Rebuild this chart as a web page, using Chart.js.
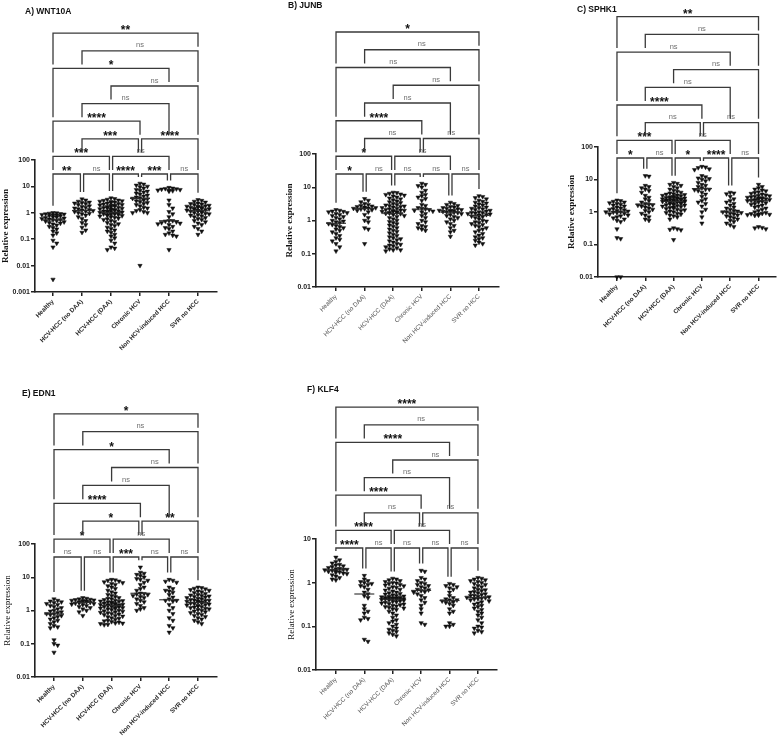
<!DOCTYPE html>
<html><head><meta charset="utf-8">
<script src="https://cdn.jsdelivr.net/npm/chart.js@4.4.1/dist/chart.umd.min.js"></script>
<style>
html,body{margin:0;padding:0;background:#fff;width:780px;height:739px;overflow:hidden}
canvas{position:absolute}
</style></head><body>
<canvas id="cA" style="left:0;top:0" width="260" height="390"></canvas>
<canvas id="cB" style="left:260px;top:0" width="260" height="390"></canvas>
<canvas id="cC" style="left:520px;top:0" width="260" height="390"></canvas>
<canvas id="cE" style="left:0;top:380px" width="260" height="359"></canvas>
<canvas id="cF" style="left:260px;top:380px" width="260" height="359"></canvas>
<script>
const categories = ['Healthy','HCV-HCC (no DAA)','HCV-HCC (DAA)','Chronic HCV','Non HCV-induced HCC','SVR no HCC'];

const yTicks5 = [0.001,0.01,0.1,1,10,100];
const yTickLabels5 = ['0.001','0.01','0.1','1','10','100'];
const yTicks4 = [0.01,0.1,1,10,100];
const yTickLabels4 = ['0.01','0.1','1','10','100'];
const yTicks3 = [0.01,0.1,1,10];
const yTickLabels3 = ['0.01','0.1','1','10'];

const WNT10A = [
 [1.0,0.98,0.95,0.92,0.9,0.88,0.85,0.82,0.8,0.78,0.75,0.7,0.68,0.65,0.62,0.6,0.57,0.55,0.53,0.5,0.48,0.45,0.42,0.4,0.37,0.34,0.3,0.27,0.24,0.2,0.17,0.14,0.09,0.07,0.05,0.003],
 [3.3,3.0,2.7,2.5,2.4,2.3,2.2,2.0,1.8,1.7,1.6,1.5,1.4,1.3,1.25,1.2,1.15,1.1,1.0,0.95,0.9,0.8,0.7,0.6,0.5,0.42,0.35,0.28,0.22,0.18],
 [3.6,3.4,3.2,3.0,2.9,2.8,2.7,2.6,2.5,2.4,2.3,2.2,2.1,2.0,1.95,1.9,1.85,1.8,1.7,1.65,1.6,1.55,1.5,1.45,1.4,1.35,1.3,1.25,1.2,1.18,1.15,1.12,1.1,1.05,1.02,
  1.0,0.98,0.95,0.92,0.9,0.87,0.85,0.82,0.8,0.77,0.74,0.7,0.66,0.62,0.58,0.55,0.5,0.46,0.42,0.38,0.35,0.32,0.28,0.25,0.22,0.2,0.18,0.15,0.13,0.11,0.09,0.07,0.05,0.045,0.04],
 [13,12,11,10,9.5,8.5,7.5,7,6.5,6,5.5,5,4.6,4.2,3.9,3.6,3.5,3.3,3.0,2.8,2.6,2.4,2.2,2.0,1.8,1.6,1.5,1.3,1.2,1.1,1.0,1.0,0.01],
 [9,8.5,8.2,8,7.8,7.5,7.2,7,6.8,6.5,3,2,1.5,1.1,0.9,0.7,0.5,0.5,0.48,0.45,0.42,0.4,0.38,0.35,0.3,0.27,0.25,0.2,0.17,0.15,0.14,0.13,0.04],
 [3.1,2.9,2.7,2.5,2.3,2.2,2.1,2.0,1.9,1.8,1.75,1.7,1.65,1.6,1.55,1.5,1.45,1.4,1.35,1.3,1.25,1.2,1.2,1.15,1.1,1.05,1.0,0.95,0.9,0.85,0.8,0.75,0.7,0.65,0.6,0.55,0.5,0.45,0.4,0.35,0.3,0.25,0.2,0.15]
];
const JUNB = [
 [2.1,2.0,1.9,1.85,1.8,1.7,1.6,1.5,1.4,1.3,1.2,1.1,1.0,0.95,0.9,0.85,0.8,0.75,0.7,0.65,0.6,0.55,0.5,0.45,0.4,0.35,0.3,0.27,0.24,0.2,0.16,0.12],
 [4.5,4.0,3.6,3.2,3.0,2.8,2.7,2.6,2.5,2.4,2.35,2.3,2.25,2.2,2.1,2.0,1.8,1.5,1.2,1.0,0.9,0.6,0.55,0.2],
 [7,6.8,6.5,6.2,6,5.7,5.4,5,4.7,4.4,4.1,3.8,3.6,3.4,3.2,3.0,2.9,2.8,2.7,2.6,2.5,2.4,2.3,2.2,2.1,2.05,2.0,1.95,1.9,1.85,1.8,1.75,1.7,1.67,1.63,
  1.6,1.5,1.4,1.3,1.2,1.1,1.0,0.92,0.85,0.78,0.72,0.66,0.6,0.55,0.5,0.46,0.42,0.38,0.35,0.32,0.3,0.28,0.26,0.24,0.22,0.2,0.19,0.18,0.17,0.16,0.15,0.14,0.13,0.13,0.12],
 [13,12,11,10,8,7,6,5.5,5,4.5,4,3,2.8,2.4,2.3,2.2,2.1,2.0,1.9,1.8,1.6,1.4,1.2,1.0,0.9,0.8,0.7,0.65,0.6,0.55,0.5],
 [3.5,3.2,3.0,2.8,2.6,2.5,2.4,2.3,2.2,2.1,2.0,2.0,1.95,1.9,1.85,1.8,1.75,1.7,1.6,1.5,1.4,1.3,1.2,1.1,1.0,0.9,0.8,0.7,0.6,0.5,0.45,0.33],
 [5.5,5.2,4.8,4.4,4.0,3.7,3.5,3.3,3.1,2.9,2.7,2.5,2.4,2.3,2.2,2.1,2.0,1.9,1.8,1.75,1.7,1.65,1.6,1.55,1.5,1.45,
  1.4,1.35,1.3,1.2,1.1,1.0,0.95,0.9,0.85,0.8,0.75,0.7,0.65,0.6,0.55,0.5,0.45,0.4,0.36,0.32,0.3,0.28,0.25,0.22,0.2,0.18]
];
const SPHK1 = [
 [2.3,2.2,2.1,2.0,1.9,1.8,1.7,1.6,1.5,1.4,1.3,1.25,1.2,1.15,1.1,1.05,1.0,1.0,0.98,0.95,0.9,0.85,0.8,0.75,0.7,0.65,0.6,0.55,0.5,0.3,0.16,0.15,0.01,0.01],
 [13,12.5,6.5,6,5.5,5,4.5,4,3.2,2.8,2.5,2.2,2.0,1.8,1.7,1.65,1.6,1.5,1.4,1.3,1.2,1.1,1.0,0.9,0.8,0.7,0.6,0.55],
 [8,7.5,7,6.5,6,5.5,5,4.6,4.3,4,3.8,3.6,3.5,3.4,3.3,3.2,3.1,3.0,2.9,2.8,2.75,2.7,2.65,2.6,2.55,2.5,2.45,2.4,2.35,2.3,2.25,2.2,2.18,2.15,2.12,
  2.1,2.05,2.0,1.95,1.9,1.85,1.8,1.75,1.7,1.65,1.6,1.55,1.5,1.45,1.4,1.35,1.3,1.25,1.2,1.15,1.1,1.05,1.0,0.95,0.9,0.85,0.8,0.75,0.7,0.6,0.32,0.3,0.29,0.28,0.14],
 [25,24,23,21,20,13,12,11,10.5,10,9,8,7,6.5,6,5.5,5,5,4.8,4.5,4,3.5,3,2.5,2.2,2,1.8,1.5,1.2,1,0.7,0.45],
 [4,3.8,3.6,3,2.5,2.2,2,1.8,1.6,1.4,1.3,1.2,1.1,1.05,1.0,1.0,0.95,0.9,0.85,0.8,0.75,0.7,0.65,0.6,0.55,0.5,0.45,0.4,0.35],
 [7,6,5.5,5,4.7,4.4,4.1,3.9,3.7,3.5,3.3,3.2,3.1,3.0,2.9,2.8,2.7,2.65,2.6,2.5,2.45,2.4,2.35,2.3,2.25,
  2.2,2.1,2.0,1.9,1.8,1.7,1.6,1.5,1.4,1.3,1.2,1.1,1.0,0.95,0.9,0.88,0.86,0.84,0.82,0.8,0.78,0.35,0.33,0.32,0.3]
];
const EDN1 = [
 [2.2,2.0,1.9,1.8,1.7,1.6,1.5,1.4,1.3,1.2,1.1,1.0,0.95,0.9,0.85,0.8,0.78,0.75,0.7,0.65,0.6,0.55,0.5,0.45,0.4,0.35,0.32,0.3,0.13,0.1,0.09,0.055],
 [2.4,2.3,2.2,2.15,2.1,2.05,2.0,1.95,1.9,1.85,1.8,1.8,1.75,1.7,1.65,1.6,1.55,1.5,1.4,1.3,1.2,1.1,1.0,0.9,0.7],
 [8.5,8.2,8,7.6,7.2,6.8,6.4,6,5.5,5,4.5,4,3.6,3.3,3,2.8,2.6,2.4,2.3,2.2,2.1,2.0,1.95,1.9,1.85,1.8,1.75,1.7,1.65,1.6,1.55,1.52,1.5,1.47,1.43,
  1.4,1.37,1.34,1.3,1.27,1.24,1.2,1.17,1.14,1.1,1.05,1.0,0.97,0.94,0.9,0.87,0.84,0.8,0.77,0.74,0.7,0.67,0.64,0.6,0.57,0.54,0.5,0.48,0.46,0.44,0.42,0.41,0.4,0.38,0.37],
 [20,14,13,12,11,10,9,8.5,8,7,6,5,4.5,4,3.3,3.2,3.1,3.0,2.8,2.6,2.4,2.2,2.0,1.8,1.6,1.4,1.2,1.1,1.0],
 [8.5,8,7.5,7,5,4.5,4,3.8,3.5,3,2.5,2.2,2.0,2.0,1.9,1.5,1.2,1.0,0.8,0.6,0.5,0.35,0.3,0.22],
 [5,4.8,4.6,4.4,4.2,4,3.8,3.6,3.4,3.2,3.0,2.9,2.8,2.7,2.6,2.5,2.4,2.3,2.2,2.1,2.05,2.0,1.95,1.9,1.85,1.8,1.75,
  1.7,1.65,1.6,1.55,1.5,1.45,1.4,1.35,1.3,1.25,1.2,1.15,1.1,1.05,1.0,0.95,0.9,0.85,0.8,0.75,0.7,0.65,0.6,0.55,0.5,0.45,0.4]
];
const KLF4 = [
 [3.8,3.3,3.0,2.8,2.6,2.5,2.4,2.3,2.2,2.1,2.05,2.0,2.0,1.95,1.9,1.85,1.8,1.75,1.7,1.65,1.6,1.5,1.4,1.3,1.2,1.15],
 [1.45,1.2,1.1,1.05,1.0,0.95,0.9,0.85,0.8,0.7,0.6,0.55,0.5,0.45,0.3,0.25,0.22,0.2,0.16,0.15,0.14,0.05,0.045],
 [1.25,1.2,1.15,1.1,1.05,1.0,0.97,0.94,0.9,0.87,0.84,0.8,0.77,0.74,0.7,0.67,0.64,0.6,0.58,0.56,0.54,0.52,0.5,0.49,0.48,0.47,0.46,0.45,0.445,0.44,0.435,0.43,0.425,0.42,0.42,
  0.415,0.41,0.4,0.39,0.38,0.37,0.36,0.35,0.34,0.33,0.32,0.31,0.3,0.29,0.28,0.27,0.26,0.25,0.24,0.22,0.2,0.18,0.16,0.14,0.13,0.12,0.11,0.1,0.09,0.085,0.08,0.075,0.07,0.065,0.06],
 [1.9,1.8,1.3,1.2,1.1,1.0,0.95,0.9,0.85,0.8,0.75,0.7,0.68,0.65,0.62,0.6,0.55,0.5,0.45,0.4,0.35,0.3,0.25,0.2,0.12,0.11],
 [0.95,0.9,0.85,0.8,0.75,0.7,0.6,0.5,0.45,0.42,0.4,0.4,0.38,0.36,0.35,0.33,0.3,0.25,0.22,0.2,0.12,0.11,0.1,0.1],
 [1.3,1.25,1.2,1.15,1.1,1.05,1.0,0.95,0.9,0.85,0.8,0.75,0.7,0.68,0.65,0.62,0.6,0.58,0.55,0.53,0.51,0.5,0.48,0.47,0.46,
  0.45,0.44,0.43,0.42,0.4,0.38,0.36,0.34,0.32,0.3,0.28,0.26,0.24,0.22,0.2,0.18,0.16,0.14,0.12,0.1,0.095,0.09,0.08,0.075,0.07]
];

// significance comparisons: [groupA, groupB, label, stacking level]
const sigWNT10A = [[0,1,'**',0],[1,2,'ns',0],[2,3,'****',0],[3,4,'***',0],[4,5,'ns',0],
 [0,2,'***',1],[2,4,'ns',1],[1,3,'***',2],[3,5,'****',2],[0,3,'****',3],[1,4,'ns',4],[2,5,'ns',5],[0,4,'*',6],[1,5,'ns',7],[0,5,'**',8]];
const sigJUNB = [[0,1,'*',0],[1,2,'ns',0],[2,3,'ns',0],[3,4,'ns',0],[4,5,'ns',0],
 [0,2,'*',1],[2,4,'ns',1],[1,3,'ns',2],[3,5,'ns',2],[0,3,'****',3],[1,4,'ns',4],[2,5,'ns',5],[0,4,'ns',6],[1,5,'ns',7],[0,5,'*',8]];
const sigSPHK1 = [[0,1,'*',0],[1,2,'ns',0],[2,3,'*',0],[3,4,'****',0],[4,5,'ns',0],
 [0,2,'***',1],[2,4,'ns',1],[1,3,'ns',2],[3,5,'ns',2],[0,3,'****',3],[1,4,'ns',4],[2,5,'ns',5],[0,4,'ns',6],[1,5,'ns',7],[0,5,'**',8]];
const sigEDN1 = [[0,1,'ns',0],[1,2,'ns',0],[2,3,'***',0],[3,4,'ns',0],[4,5,'ns',0],
 [0,2,'*',1],[2,4,'ns',1],[1,3,'*',2],[3,5,'**',2],[0,3,'****',3],[1,4,'ns',4],[2,5,'ns',5],[0,4,'*',6],[1,5,'ns',7],[0,5,'*',8]];
const sigKLF4 = [[0,1,'****',0],[1,2,'ns',0],[2,3,'ns',0],[3,4,'ns',0],[4,5,'ns',0],
 [0,2,'****',1],[2,4,'ns',1],[1,3,'ns',2],[3,5,'ns',2],[0,3,'****',3],[1,4,'ns',4],[2,5,'ns',5],[0,4,'****',6],[1,5,'ns',7],[0,5,'****',8]];

const panels = [
 {id:'cA', title:'A) WNT10A', groups:WNT10A, sig:sigWNT10A, yTicks:yTicks5, yLabels:yTickLabels5, yBold:true, xBold:true,
  g:{h:390, padL:0, padR:43, padT:160, yW:35, xH:98, xMin:-0.621, xMax:5.655, titleX:25, titleY:12, br0:174, brStep:17.6}},
 {id:'cB', title:'B) JUNB', groups:JUNB, sig:sigJUNB, yTicks:yTicks4, yLabels:yTickLabels4, yBold:true, xBold:false,
  g:{h:390, padL:24, padR:21, padT:154, yW:32, xH:103, xMin:-0.70, xMax:5.70, titleX:28, titleY:6, br0:174, brStep:17.75}},
 {id:'cC', title:'C) SPHK1', groups:SPHK1, sig:sigSPHK1, yTicks:yTicks4, yLabels:yTickLabels4, yBold:true, xBold:true,
  g:{h:390, padL:46, padR:4, padT:147, yW:32, xH:113, xMin:-0.67, xMax:5.60, titleX:57, titleY:10, br0:158, brStep:17.66}},
 {id:'cE', title:'E) EDN1', groups:EDN1, sig:sigEDN1, yTicks:yTicks4, yLabels:yTickLabels4, yBold:false, xBold:true,
  g:{h:359, padL:2, padR:43, padT:164, yW:33, xH:62, xMin:-0.66, xMax:5.66, titleX:22, titleY:14, br0:177, brStep:17.9}},
 {id:'cF', title:'F) KLF4', groups:KLF4, sig:sigKLF4, yTicks:yTicks3, yLabels:yTickLabels3, yBold:false, xBold:false,
  g:{h:359, padL:26, padR:23, padT:159, yW:30, xH:69, xMin:-0.70, xMax:5.67, titleX:47, titleY:10, br0:168, brStep:17.6}}
];

function median(v){ const s=[...v].sort((a,b)=>a-b); const n=s.length; return n%2?s[(n-1)/2]:(s[n/2-1]+s[n/2])/2; }

// beeswarm horizontal spreading (pixel geometry -> x offset in category units)
function swarm(vals, pxDec, pxUnit){
  const pts = vals.map((v,i)=>({i, py:-Math.log10(v)*pxDec}));
  pts.sort((a,b)=>a.py-b.py);
  const placed=[], out=new Array(vals.length);
  const dx=3.7, dy=3.4;
  for(const p of pts){
    let best=0, bestCost=Infinity;
    for(let k=0;k<=6;k++){
      const off = k===0?0:(k%2?1:-1)*Math.ceil(k/2)*dx;
      let cost=0;
      for(const q of placed){ if(Math.abs(q.py-p.py)<dy && Math.abs(q.ox-off)<dx-0.1) cost++; }
      if(cost===0){best=off;bestCost=0;break;}
      if(cost<bestCost){bestCost=cost;best=off;}
    }
    p.ox=best; placed.push(p); out[p.i]=best/pxUnit;
  }
  return out;
}

const decor = {
  id:'decor',
  afterDatasetsDraw(chart, args, o){
    const ctx=chart.ctx, xs=chart.scales.x, ys=chart.scales.y;
    ctx.save(); ctx.strokeStyle='#2a2a2a'; ctx.lineWidth=1.1;
    o.groups.forEach((vals,i)=>{
      const y=ys.getPixelForValue(median(vals)), x=xs.getPixelForValue(i);
      ctx.beginPath(); ctx.moveTo(x-10,y); ctx.lineTo(x+10,y); ctx.stroke();
    });
    ctx.restore();
  },
  afterDraw(chart, args, o){
    const ctx=chart.ctx, xs=chart.scales.x, ys=chart.scales.y;
    ctx.save();
    ctx.fillStyle='#111'; ctx.font='bold 8.5px Arial'; ctx.textAlign='left'; ctx.textBaseline='middle';
    ctx.fillText(o.title, o.titleX, o.titleY);
    const lvlY = l => o.br0 - l*o.brStep;
    const dataTop = o.groups.map(v => ys.getPixelForValue(Math.max(...v)) - 3);
    o.sig.forEach(b=>{
      const [a,c,lab,l]=b; const y=lvlY(l);
      const shareL = o.sig.some(q=>q!==b && q[3]===l && q[1]===a);
      const shareR = o.sig.some(q=>q!==b && q[3]===l && q[0]===c);
      const x1 = xs.getPixelForValue(a)+(shareL?1.6:0);
      const x2 = xs.getPixelForValue(c)-(shareR?1.6:0);
      const stop = col => { let s=null; o.sig.forEach(q=>{ if(q[3]<l && q[0]<=col && col<=q[1]){ const qy=lvlY(q[3]); if(s===null||qy<s) s=qy; } }); if(s===null) s=dataTop[col]; return Math.max(s-4, y+3); };
      ctx.strokeStyle='#3a3a3a'; ctx.lineWidth=1.3;
      ctx.beginPath(); ctx.moveTo(x1,stop(a)); ctx.lineTo(x1,y); ctx.lineTo(x2,y); ctx.lineTo(x2,stop(c)); ctx.stroke();
      const xm=(x1+x2)/2;
      ctx.textAlign='center'; ctx.textBaseline='alphabetic';
      if(lab==='ns'){ ctx.fillStyle='#707070'; ctx.font='7.5px Arial'; ctx.fillText(lab, xm, y-3.5); }
      else { ctx.fillStyle='#111'; ctx.font='bold 12px Arial'; ctx.fillText(lab, xm, y+1); }
    });
    ctx.restore();
  }
};

panels.forEach(P=>{
  const g=P.g;
  const plotH = g.h - g.padT - g.xH;
  const pxDec = plotH / (P.yTicks.length-1);
  const plotW = 260 - g.padL - g.yW - g.padR;
  const pxUnit = plotW / (g.xMax - g.xMin);
  const datasets = P.groups.map((vals,i)=>{
    const off = swarm(vals, pxDec, pxUnit);
    return { label: categories[i], data: vals.map((v,j)=>({x:i+off[j], y:v})),
      pointStyle:'triangle', rotation:180, pointRadius:2.5, backgroundColor:'#111', borderColor:'#111', borderWidth:0.5, clip:false };
  });
  new Chart(document.getElementById(P.id), {
    type:'scatter',
    data:{datasets},
    options:{
      responsive:false, animation:false, events:[], devicePixelRatio:1,
      layout:{padding:{left:g.padL, right:g.padR, top:g.padT, bottom:0}},
      plugins:{legend:{display:false}, tooltip:{enabled:false}, title:{display:false},
        decor:{title:P.title, titleX:g.titleX, titleY:g.titleY, groups:P.groups, sig:P.sig, br0:g.br0, brStep:g.brStep}},
      scales:{
        x:{type:'linear', min:g.xMin, max:g.xMax, offset:false,
          afterBuildTicks:s=>{ s.ticks = categories.map((c,i)=>({value:i})); },
          afterFit:s=>{ s.height=g.xH; },
          ticks:{callback:(v,i)=>categories[i], minRotation:45, maxRotation:45, autoSkip:false, padding:2,
            color: P.xBold?'#2a2a2a':'#555', font:{family:'Arial', size:6.3, weight: P.xBold?'bold':'normal'}},
          grid:{display:true, drawOnChartArea:false, drawTicks:true, tickLength:4, color:'#222', lineWidth:1.5},
          border:{display:true, color:'#222', width:1.6}
        },
        y:{type:'logarithmic', min:P.yTicks[0], max:P.yTicks[P.yTicks.length-1],
          afterBuildTicks:s=>{ s.ticks = P.yTicks.map(v=>({value:v})); },
          afterFit:s=>{ s.width=g.yW; },
          ticks:{callback:(v,i)=>P.yLabels[i], autoSkip:false, padding:1, color:'#222', font:{family:'Arial', size:7, weight:'bold'}},
          grid:{display:true, drawOnChartArea:false, drawTicks:true, tickLength:4, color:'#222', lineWidth:1.5},
          border:{display:true, color:'#222', width:1.6},
          title:{display:true, text:'Relative expression', padding:0, color:'#111',
            font:{family:'Liberation Serif', size:9, weight: P.yBold?'bold':'normal'}}
        }
      }
    },
    plugins:[decor]
  });
});
</script>
</body></html>
